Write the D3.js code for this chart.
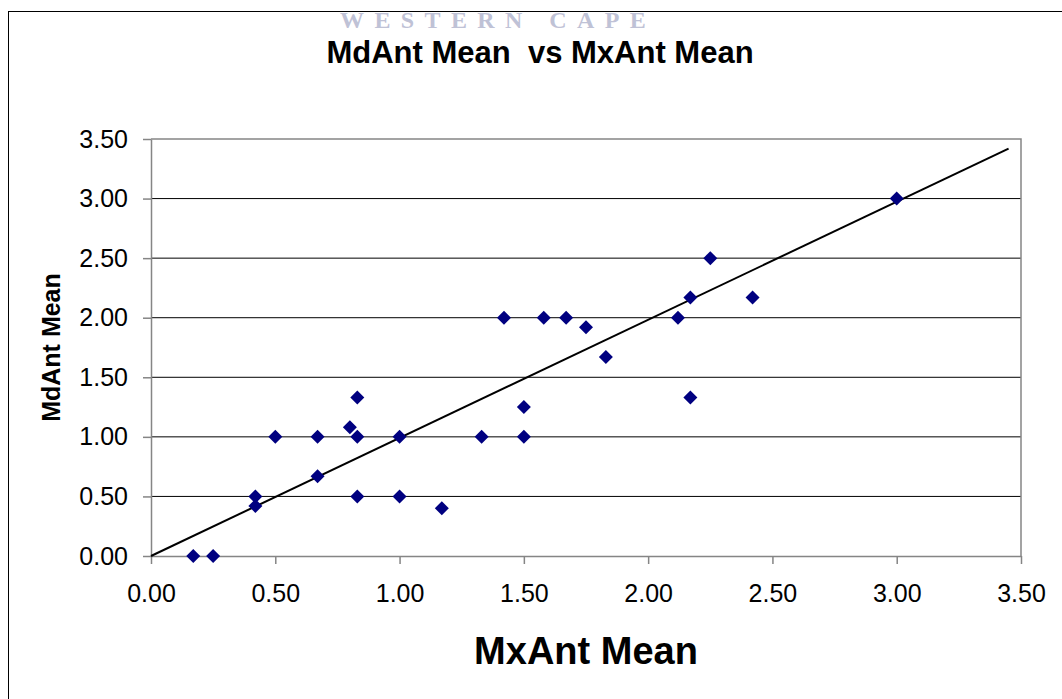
<!DOCTYPE html>
<html>
<head>
<meta charset="utf-8">
<script src="https://cdn.jsdelivr.net/npm/d3@7"></script>
<style>
  body { margin: 0; background: #fff; }
  text { font-family: "Liberation Sans", Arial, sans-serif; }
</style>
</head>
<body>
<div id="chart"></div>
<script>
const mxAnt = [0.17, 0.25, 0.42, 0.42, 0.50, 0.67, 0.67, 0.80, 0.83, 0.83, 0.83, 1.00, 1.00, 1.17,
    1.33, 1.50, 1.50, 1.42, 1.58, 1.67, 1.75, 1.83, 2.12, 2.17, 2.17, 2.25, 2.42, 3.00];
const mdAnt = [0.00, 0.00, 0.50, 0.42, 1.00, 1.00, 0.67, 1.08, 1.33, 1.00, 0.50, 1.00, 0.50, 0.40,
    1.00, 1.00, 1.25, 2.00, 2.00, 2.00, 1.92, 1.67, 2.00, 1.33, 2.17, 2.50, 2.17, 3.00];
const trendX = [0, 3.45];
const trendY = [0, 3.42];
const tickValues = [0, 0.5, 1, 1.5, 2, 2.5, 3, 3.5];

const width = 1062, height = 699;
const margin = { top: 139, right: 41, bottom: 143, left: 151 };
const plotW = width - margin.left - margin.right,
    plotH = height - margin.top - margin.bottom;

const svg = d3.select("#chart")
    .append("svg")
    .attr("width", width)
    .attr("height", height);

svg.append("rect").attr("width", width).attr("height", height).attr("fill", "#fff");

// watermark peeking over the top edge
svg.append("text")
    .attr("x", 340)
    .attr("y", 28)
    .attr("fill", "#bfc2d6")
    .style("font-family", "'Liberation Serif', serif")
    .style("font-weight", "bold")
    .style("font-size", "24px")
    .style("letter-spacing", "10.4px")
    .text("WESTERN CAPE");

// chart frame
svg.append("rect")
    .attr("x", 8.5).attr("y", 11.5)
    .attr("width", width + 20).attr("height", height + 20)
    .attr("fill", "none")
    .attr("stroke", "#000")
    .attr("stroke-width", 1);

svg.append("text")
    .attr("x", 540)
    .attr("y", 63)
    .attr("text-anchor", "middle")
    .style("font-size", "31px")
    .style("font-weight", "bold")
    .style("white-space", "pre")
    .text("MdAnt Mean  vs MxAnt Mean");

const g = svg.append("g")
    .attr("transform", `translate(${margin.left},${margin.top})`);

const x = d3.scaleLinear().domain([0, 3.5]).range([0, plotW]);
const y = d3.scaleLinear().domain([0, 3.5]).range([plotH, 0]);

// gridlines
g.selectAll("line.grid")
    .data(tickValues.slice(1, -1))
    .join("line")
    .attr("class", "grid")
    .attr("x1", 0).attr("x2", plotW)
    .attr("y1", d => y(d)).attr("y2", d => y(d))
    .attr("stroke", "#000")
    .attr("stroke-width", 1);

// top and right border of plot area
g.append("path")
    .attr("d", `M0,${y(3.5)}H${x(3.5)}V${y(0)}`)
    .attr("fill", "none")
    .attr("stroke", "#858585")
    .attr("stroke-width", 1.5);

const xAxis = g.append("g")
    .attr("transform", `translate(0,${plotH})`)
    .call(d3.axisBottom(x).tickValues(tickValues).tickFormat(d3.format(".2f"))
        .tickSize(8).tickSizeOuter(0).tickPadding(20));

const yAxis = g.append("g")
    .call(d3.axisLeft(y).tickValues(tickValues).tickFormat(d3.format(".2f"))
        .tickSize(8).tickSizeOuter(0).tickPadding(15));

[xAxis, yAxis].forEach(a => {
    a.select(".domain").attr("stroke", "#858585").attr("stroke-width", 1.5);
    a.selectAll(".tick line").attr("stroke", "#858585").attr("stroke-width", 1.5);
    a.selectAll(".tick text")
        .attr("fill", "#000")
        .style("font-family", "'Liberation Sans', Arial, sans-serif")
        .style("font-size", "25px");
});

// trend line
const line = d3.line().x(d => x(d[0])).y(d => y(d[1]));
g.append("path")
    .datum(d3.zip(trendX, trendY))
    .attr("fill", "none")
    .attr("stroke", "#000")
    .attr("stroke-width", 2)
    .attr("d", line);

// diamond markers
g.selectAll("path.pt")
    .data(d3.zip(mxAnt, mdAnt))
    .join("path")
    .attr("class", "pt")
    .attr("transform", d => `translate(${x(d[0])},${y(d[1])})`)
    .attr("d", "M0,-7L7,0L0,7L-7,0Z")
    .attr("fill", "#000080");

svg.append("text")
    .attr("x", margin.left + plotW / 2)
    .attr("y", 664)
    .attr("text-anchor", "middle")
    .style("font-size", "38px")
    .style("font-weight", "bold")
    .text("MxAnt Mean");

svg.append("text")
    .attr("transform", `translate(60,${margin.top + plotH / 2}) rotate(-90)`)
    .attr("text-anchor", "middle")
    .style("font-size", "25px")
    .style("font-weight", "bold")
    .text("MdAnt Mean");
</script>
</body>
</html>
